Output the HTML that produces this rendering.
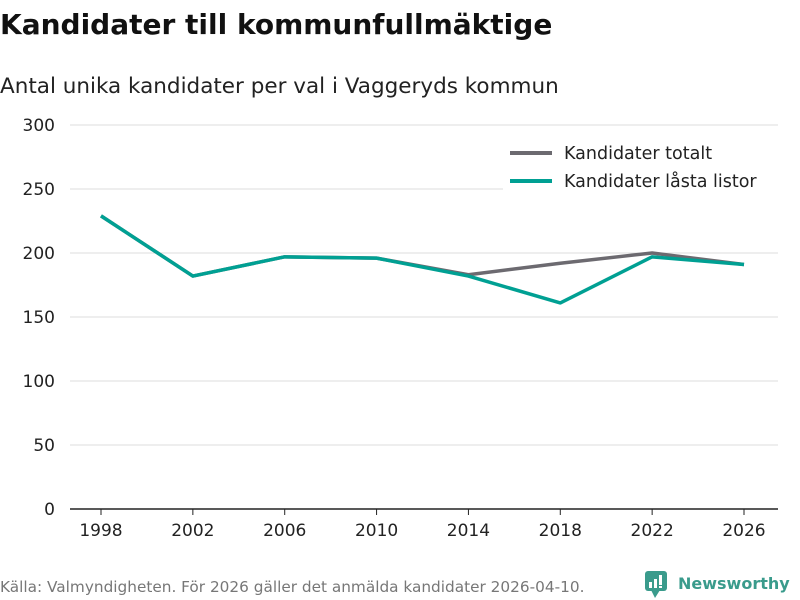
<!DOCTYPE html>
<html><head><meta charset="utf-8"><style>
body{margin:0;background:#fff;font-family:"DejaVu Sans","Liberation Sans",sans-serif;}
#c{position:relative;width:800px;height:600px;overflow:hidden}
</style></head><body>
<div id="c">
<svg width="800" height="600" xmlns="http://www.w3.org/2000/svg" id="svg">
<text x="0" y="34" font-size="28" font-weight="bold" fill="#111">Kandidater till kommunfullmäktige</text>
<text x="0" y="93" font-size="21.5" fill="#222">Antal unika kandidater per val i Vaggeryds kommun</text>
<g id="grid"></g><g id="lines"></g>
<g>
<rect x="503" y="138" width="275" height="60" fill="#fff"/>
<line x1="510" y1="153" x2="552" y2="153" stroke="#6c6a70" stroke-width="4"/>
<text x="564" y="159" font-size="17.5" fill="#222">Kandidater totalt</text>
<line x1="510" y1="181" x2="552" y2="181" stroke="#00a093" stroke-width="4"/>
<text x="564" y="187" font-size="17.5" fill="#222">Kandidater låsta listor</text>
</g>
<text x="0" y="592" font-size="15.3" fill="#777">Källa: Valmyndigheten. För 2026 gäller det anmälda kandidater 2026-04-10.</text>
<g>
<rect x="645" y="571" width="22" height="20" rx="3" fill="#3a9b8c"/>
<polygon points="651,590 660,590 655,598" fill="#3a9b8c"/>
<rect x="649" y="582" width="3" height="6" fill="#fff"/><rect x="654" y="579" width="3" height="9" fill="#fff"/><rect x="659" y="575" width="3" height="10" fill="#fff"/><rect x="659" y="586" width="3" height="2" fill="#fff"/>
<text x="678" y="589" font-size="16" font-weight="bold" fill="#3a9b8c">Newsworthy</text>
</g>
</svg></div>
<script>
const years=[1998,2002,2006,2010,2014,2018,2022,2026];
const totalt=[229,182,197,196,183,192,200,191];
const lasta=[229,182,197,196,182,161,197,191];
const yTicks=[0,50,100,150,200,250,300];
const NS="http://www.w3.org/2000/svg";
const x=v=>101+(v-1998)*(744-101)/28;
const y=v=>509-v*(509-125)/300;
const grid=document.getElementById('grid'),lines=document.getElementById('lines');
function mk(tag,a,p){const e=document.createElementNS(NS,tag);for(const k in a)e.setAttribute(k,a[k]);p.appendChild(e);return e;}
yTicks.forEach(t=>{
  if(t>0){const l=mk('line',{x1:70,x2:778,y1:y(t),y2:y(t),stroke:'#ddd','stroke-width':1},grid);
  
  }
  const tx=mk('text',{x:55,y:y(t)+6,'font-size':17,fill:'#222','text-anchor':'end'},grid);tx.textContent=t;
  
  
});
const ax=mk('line',{x1:70,x2:778,y1:509,y2:509,stroke:'#222','stroke-width':1.5},grid);


years.forEach(yr=>{
  mk('line',{x1:x(yr),x2:x(yr),y1:509,y2:515,stroke:'#222'},grid);
  const tx=mk('text',{x:x(yr),y:536,'font-size':17,fill:'#222','text-anchor':'middle'},grid);tx.textContent=yr;
  
  
});
function line(vals,color,name){
  const p=mk('polyline',{points:vals.map((v,i)=>x(years[i])+','+y(v)).join(' '),fill:'none',stroke:color,'stroke-width':3.5,'stroke-linejoin':'round'},lines);
  
  
}
line(totalt,'#6c6a70','line-totalt');
line(lasta,'#00a093','line-lasta-listor');
</script></body></html>
